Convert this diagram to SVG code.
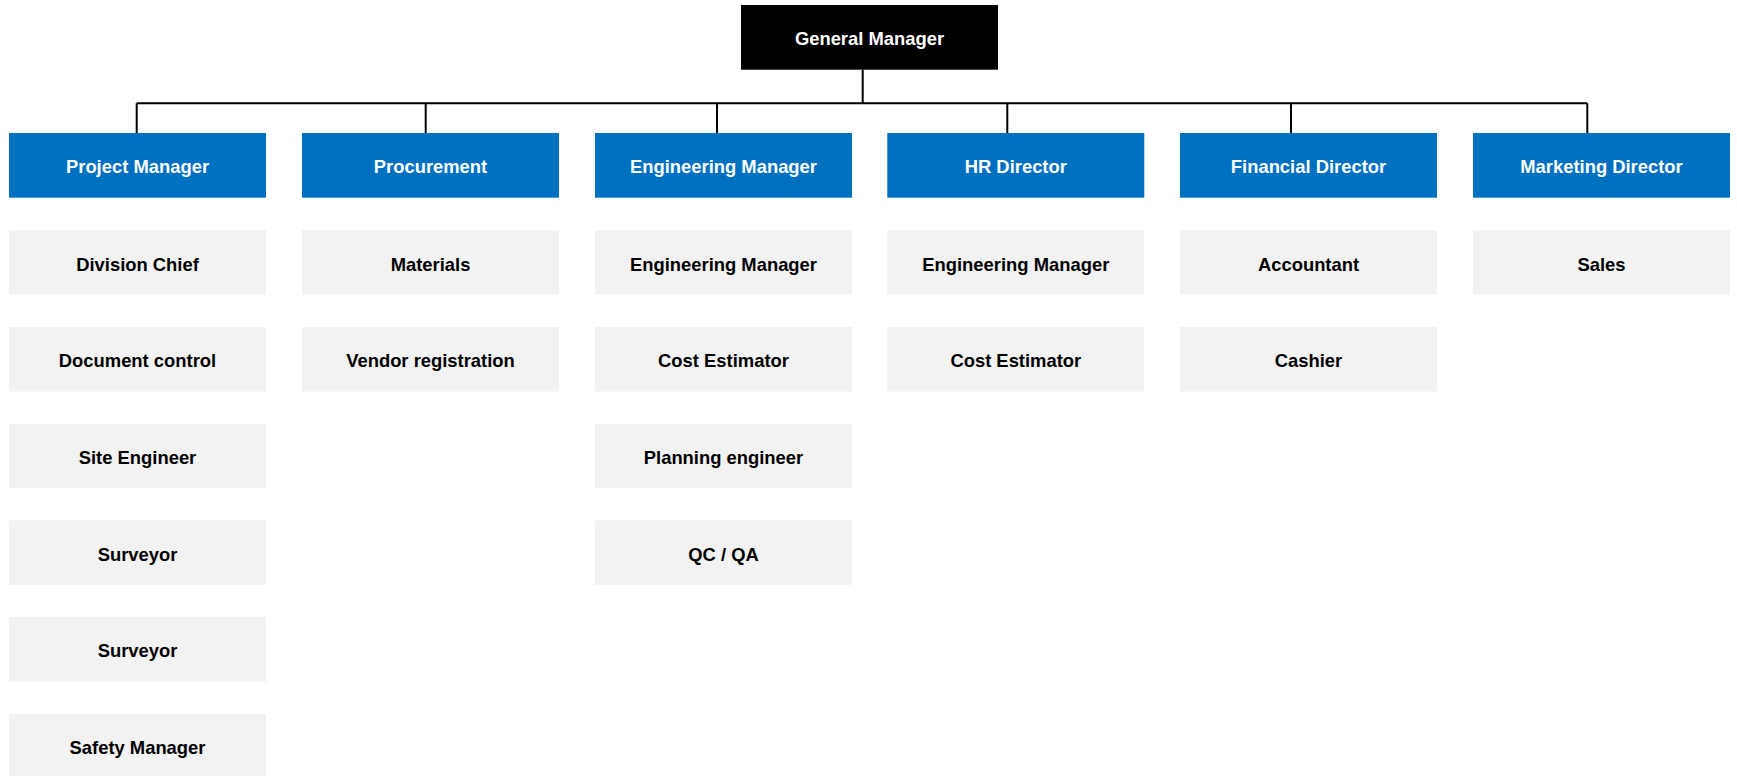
<svg xmlns="http://www.w3.org/2000/svg" width="1737" height="776" viewBox="0 0 1737 776">
<style>
text{font-family:"Liberation Sans",Arial,sans-serif;font-weight:bold;font-size:18.4px;text-anchor:middle}
.top rect{fill:#000000}
.top text{fill:#ffffff}
.head rect{fill:#0070C0}
.head text{fill:#ffffff}
.item rect{fill:#F2F2F2}
.item text{fill:#000000}
.conn{stroke:#000000;stroke-width:2;fill:none}
</style>
<rect width="1737" height="776" fill="#ffffff"/>
<g id="connectors" class="conn">
<path d="M862.7 69.7V103.3M136.7 103.3H1587.3M136.7 103.3V133M425.7 103.3V133M717 103.3V133M1007.3 103.3V133M1291 103.3V133M1587.3 103.3V133"/>
</g>
<g id="general-manager" class="top"><rect x="741" y="5" width="257" height="64.7"/><text x="869.5" y="45">General Manager</text></g>
<g id="project-manager" class="head"><rect x="9" y="133" width="257" height="64.7"/><text x="137.5" y="172.7">Project Manager</text></g>
<g id="procurement" class="head"><rect x="302" y="133" width="257" height="64.7"/><text x="430.5" y="172.7">Procurement</text></g>
<g id="engineering-manager" class="head"><rect x="595" y="133" width="257" height="64.7"/><text x="723.5" y="172.7">Engineering Manager</text></g>
<g id="hr-director" class="head"><rect x="887.3" y="133" width="257" height="64.7"/><text x="1015.8" y="172.7">HR Director</text></g>
<g id="financial-director" class="head"><rect x="1180" y="133" width="257" height="64.7"/><text x="1308.5" y="172.7">Financial Director</text></g>
<g id="marketing-director" class="head"><rect x="1473" y="133" width="257" height="64.7"/><text x="1601.5" y="172.7">Marketing Director</text></g>

<g id="division-chief" class="item"><rect x="9" y="230.2" width="257" height="64.5"/><text x="137.5" y="270.7">Division Chief</text></g>
<g id="document-control" class="item"><rect x="9" y="327" width="257" height="64.5"/><text x="137.5" y="366.7">Document control</text></g>
<g id="site-engineer" class="item"><rect x="9" y="423.7" width="257" height="64.5"/><text x="137.5" y="463.8">Site Engineer</text></g>
<g id="surveyor-1" class="item"><rect x="9" y="520.3" width="257" height="64.5"/><text x="137.5" y="560.5">Surveyor</text></g>
<g id="surveyor-2" class="item"><rect x="9" y="617" width="257" height="64.5"/><text x="137.5" y="657.3">Surveyor</text></g>
<g id="safety-manager" class="item"><rect x="9" y="714" width="257" height="64.5"/><text x="137.5" y="754.3">Safety Manager</text></g>

<g id="materials" class="item"><rect x="302" y="230.2" width="257" height="64.5"/><text x="430.5" y="270.7">Materials</text></g>
<g id="vendor-registration" class="item"><rect x="302" y="327" width="257" height="64.5"/><text x="430.5" y="366.7">Vendor registration</text></g>

<g id="eng-engineering-manager" class="item"><rect x="595" y="230.2" width="257" height="64.5"/><text x="723.5" y="270.7">Engineering Manager</text></g>
<g id="eng-cost-estimator" class="item"><rect x="595" y="327" width="257" height="64.5"/><text x="723.5" y="366.7">Cost Estimator</text></g>
<g id="planning-engineer" class="item"><rect x="595" y="423.7" width="257" height="64.5"/><text x="723.5" y="463.8">Planning engineer</text></g>
<g id="qc-qa" class="item"><rect x="595" y="520.3" width="257" height="64.5"/><text x="723.5" y="560.5">QC / QA</text></g>

<g id="hr-engineering-manager" class="item"><rect x="887.3" y="230.2" width="257" height="64.5"/><text x="1015.8" y="270.7">Engineering Manager</text></g>
<g id="hr-cost-estimator" class="item"><rect x="887.3" y="327" width="257" height="64.5"/><text x="1015.8" y="366.7">Cost Estimator</text></g>

<g id="accountant" class="item"><rect x="1180" y="230.2" width="257" height="64.5"/><text x="1308.5" y="270.7">Accountant</text></g>
<g id="cashier" class="item"><rect x="1180" y="327" width="257" height="64.5"/><text x="1308.5" y="366.7">Cashier</text></g>

<g id="sales" class="item"><rect x="1473" y="230.2" width="257" height="64.5"/><text x="1601.5" y="270.7">Sales</text></g>
</svg>
